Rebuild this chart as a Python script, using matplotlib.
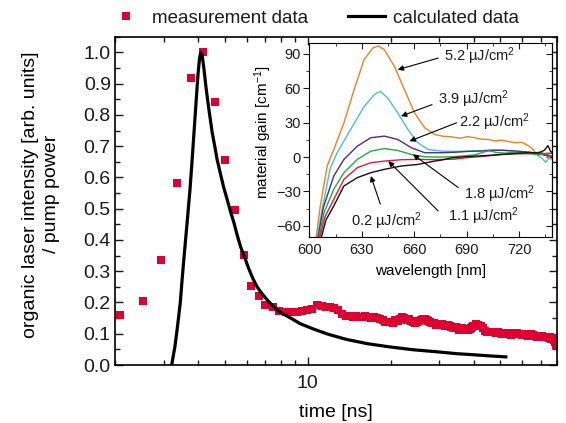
import matplotlib
matplotlib.use("Agg")
import matplotlib.pyplot as plt
from matplotlib.ticker import MultipleLocator, FormatStrFormatter, LogLocator, NullFormatter, FixedFormatter, FixedLocator

plt.rcParams['font.family'] = ['Liberation Sans', 'DejaVu Sans']
plt.rcParams['mathtext.fontset'] = 'custom'
plt.rcParams['mathtext.rm'] = 'Liberation Sans'
plt.rcParams['mathtext.it'] = 'Liberation Sans:italic'
plt.rcParams['text.color'] = '#1a1a1a'
plt.rcParams['xtick.color'] = '#1a1a1a'
plt.rcParams['ytick.color'] = '#1a1a1a'

# --- main panel: measured laser intensity vs time (ns) ---
meas_time = [2.09, 2.52, 2.93, 3.35, 3.76, 4.18, 4.60, 5.03, 5.43, 5.85, 6.22, 6.63, 7.01, 7.49,
             7.90, 8.32, 8.73, 9.15, 9.56, 9.98, 10.39, 10.81, 11.22, 11.64,
             12.05, 12.47, 12.88, 13.30, 13.71, 14.13, 14.54, 14.96, 15.37, 15.79,
             16.20, 16.62, 17.03, 17.45, 17.86, 18.28, 18.69, 19.11, 19.52, 19.94,
             20.36, 20.77, 21.19, 21.60, 22.02, 22.43, 22.85, 23.26, 23.68, 24.09, 24.51, 24.92,
             25.34, 25.75, 26.17, 26.58, 27.00, 27.41, 27.83, 28.24, 28.66, 29.07, 29.49, 29.90,
             30.32, 30.73, 31.15, 31.56, 31.98, 32.39, 32.81, 33.22, 33.64, 34.05, 34.47, 34.88,
             35.30, 35.71, 36.13, 36.54, 36.96, 37.37, 37.79, 38.20, 38.62, 39.03, 39.45, 39.86,
             40.69, 41.52, 42.35, 43.18, 44.01, 44.84, 45.67, 46.50, 47.33, 48.16,
             48.99, 49.82, 50.65, 51.48, 52.31, 53.14, 53.97, 54.80, 55.63, 56.46,
             57.29, 58.12, 58.95, 59.78, 60.61, 61.44, 62.27, 63.10, 63.93, 64.76,
             65.59, 66.42, 67.25, 68.08, 68.91, 69.74, 70.57, 71.40, 72.23, 73.06,
             73.89, 74.72, 75.55, 76.38, 77.21, 78.04, 78.87, 79.70]
meas_value = [0.160, 0.206, 0.337, 0.583, 0.918, 1.000, 0.840, 0.655, 0.497, 0.351, 0.254, 0.221, 0.192, 0.185,
              0.173, 0.169, 0.168, 0.170, 0.172, 0.176, 0.180, 0.192, 0.190, 0.186,
              0.186, 0.181, 0.176, 0.163, 0.158, 0.156, 0.155, 0.157, 0.152, 0.154,
              0.158, 0.155, 0.151, 0.153, 0.149, 0.147, 0.144, 0.139, 0.136, 0.137,
              0.134, 0.143, 0.140, 0.148, 0.153, 0.150, 0.145, 0.146, 0.141, 0.139, 0.134, 0.137,
              0.140, 0.143, 0.148, 0.146, 0.143, 0.141, 0.137, 0.133, 0.135, 0.129, 0.131, 0.128,
              0.132, 0.131, 0.127, 0.125, 0.129, 0.127, 0.124, 0.123, 0.121, 0.119, 0.121, 0.117,
              0.112, 0.114, 0.118, 0.116, 0.111, 0.113, 0.115, 0.112, 0.116, 0.118, 0.122, 0.125,
              0.131, 0.128, 0.126, 0.119, 0.110, 0.106, 0.104, 0.107, 0.106, 0.102,
              0.104, 0.101, 0.099, 0.100, 0.103, 0.100, 0.101, 0.097, 0.099, 0.101,
              0.102, 0.099, 0.098, 0.096, 0.098, 0.097, 0.095, 0.093, 0.096, 0.098,
              0.095, 0.093, 0.094, 0.091, 0.089, 0.093, 0.092, 0.088, 0.090, 0.091,
              0.088, 0.086, 0.089, 0.083, 0.085, 0.080, 0.073, 0.064]

calc_time = [3.21, 3.30, 3.37, 3.45, 3.51, 3.58, 3.66, 3.74, 3.81, 3.92, 4.00, 4.05, 4.09, 4.14,
             4.20, 4.28, 4.38, 4.50, 4.60, 4.69, 4.80, 4.95, 5.10, 5.25, 5.40, 5.55, 5.70,
             5.90, 6.10, 6.30, 6.54, 6.80, 7.10, 7.40, 7.73, 8.15, 8.60, 9.40, 10.5,
             11.8, 13.8, 16.5, 19.8, 24.0, 29.6, 35.0, 39.6, 46.0, 52.3]
calc_value = [0.0, 0.06, 0.123, 0.20, 0.283, 0.37, 0.465, 0.56, 0.658, 0.818, 0.93, 0.98, 1.0, 0.99,
              0.95, 0.885, 0.818, 0.745, 0.70, 0.658, 0.62, 0.57, 0.530, 0.49, 0.455, 0.415, 0.380,
              0.345, 0.31, 0.28, 0.251, 0.23, 0.21, 0.193, 0.177, 0.163, 0.152, 0.132, 0.115,
              0.099, 0.082, 0.068, 0.058, 0.049, 0.042, 0.036, 0.033, 0.029, 0.026]

# --- inset: material gain spectra for different pump fluences ---
wl_52 = [603.3, 603.9, 606.3, 610.2, 614.0, 619.8, 625.6, 631.3, 636.2, 639.4, 642.9, 648.7, 654.4, 660.2,
         666.0, 671.7, 676.5, 681.4, 686.0, 690.5, 694.8, 698.5, 702.5, 706.0, 710.2, 714.0, 717.9,
         721.5, 725.6, 727.5, 729.4, 732.0, 735.2, 737.5, 740.0]
gain_52 = [-80, -70, -42.6, -7.8, 6.7, 29.9, 58.9, 85, 95, 97.1, 93.7, 79.1, 58.9, 38.6,
           25.6, 19.7, 18.2, 17.7, 16.5, 17.8, 16.9, 15.6, 15.4, 14.2, 14.8, 13.5, 12.5,
           13.0, 9.6, 7.5, 3.8, 4.5, 2.3, -1.5, -2]
wl_39 = [603.9, 604.5, 607.3, 611.9, 615.9, 623.6, 631.3, 637.1, 640.6, 644.8, 650.6, 656.4, 662.1, 667.9,
         675.6, 683.0, 691.0, 698.0, 704.0, 710.2, 716.0, 721.0, 725.6, 730.0, 733.0, 735.2, 738.0, 740.0]
gain_39 = [-80, -70, -46, -10, 3.8, 24, 44, 54.5, 57.4, 51.6, 38.6, 24.1, 12.5, 6.7,
           5.2, 5.0, 5.2, 5.5, 6.3, 6.0, 5.4, 4.8, 4.0, 2.5, -1.0, -4.5, 1.0, 2.0]
wl_22 = [604.4, 605.0, 608.0, 614.0, 619.8, 627.5, 635.2, 642.9, 650.6, 658.3, 666.0, 675.6, 683.0,
         691.0, 698.0, 704.0, 710.0, 716.0, 722.0, 729.0, 735.0, 740.0]
gain_22 = [-80, -70, -44, -16.5, -2, 9.6, 16.9, 18.3, 15.4, 8.2, 3.8, 3.8, 4.2,
           5.0, 5.3, 5.8, 6.0, 5.5, 4.8, 3.8, 1.5, 0.5]
wl_18 = [604.9, 605.5, 608.5, 614.0, 619.8, 627.5, 635.2, 642.9, 650.6, 658.3, 666.0, 673.0, 681.4,
         688.0, 694.8, 700.0, 703.0, 707.0, 712.0, 718.0, 725.6, 732.0, 736.0, 740.0]
gain_18 = [-80, -70, -48, -28, -13.6, -2, 5.2, 7.5, 5.8, 2.3, 0.3, 0.0, 0.3,
           1.0, 2.0, 4.5, 5.5, 4.0, 3.5, 4.2, 3.0, 2.0, 3.5, 3.0]
wl_11 = [605.4, 606.0, 609.0, 614.0, 619.8, 627.5, 635.2, 642.9, 652.5, 662.0, 671.7, 683.0, 690.0,
         696.7, 703.0, 710.0, 717.0, 725.6, 731.0, 736.0, 740.0]
gain_11 = [-80, -70, -52, -36.8, -19.4, -9.2, -4.9, -3.5, -2.3, -2.0, -2.2, -1.8, -0.5,
           0.3, 1.2, 2.3, 2.8, 3.0, 3.8, 2.5, 4.0]
wl_02 = [606.3, 606.9, 609.5, 614.0, 619.8, 627.5, 635.2, 642.9, 652.5, 662.0, 671.7, 676.0, 681.4,
         688.0, 696.7, 703.0, 710.0, 717.0, 725.6, 731.0, 734.5, 736.5, 738.0, 740.0]
gain_02 = [-80, -70, -55, -42.6, -25.2, -17.9, -13.6, -10.7, -7.8, -6.4, -3.5, -2.5, -0.6,
           0.2, 1.0, 1.5, 2.3, 3.0, 4.0, 3.5, 6.0, 10.0, 5.0, 3.0]

fluence_labels = ['5.2 µJ/cm$^2$', '3.9 µJ/cm$^2$', '2.2 µJ/cm$^2$',
                  '1.8 µJ/cm$^2$', '1.1 µJ/cm$^2$', '0.2 µJ/cm$^2$']
spectra = [(wl_52, gain_52, '#F07F1E'), (wl_39, gain_39, '#46C3C8'), (wl_22, gain_22, '#4B2A9A'),
           (wl_18, gain_18, '#1FAE3C'), (wl_11, gain_11, '#E5173A'), (wl_02, gain_02, '#111111')]
# arrow head (on curve), arrow tail, text start  -- in inset data coords
label_pos = [((650.6, 76.3), (673.7, 86.4), (677.0, 88.0)),
             ((652.5, 35.7), (670.2, 45.8), (673.7, 50.2)),
             ((657.3, 13.9), (684.2, 29.9), (685.5, 30.5)),
             ((659.3, 2.3), (685.2, -26.6), (688.5, -32.0)),
             ((645.2, -3.5), (673.7, -47.0), (679.5, -51.5)),
             ((635.2, -16.5), (640.6, -41.0), (624.0, -56.0))]

red = '#DD0030'

fig = plt.figure(figsize=(5.66, 4.23), dpi=100)
ax = fig.add_axes([0.2032, 0.1371, 0.7804, 0.7761])

ax.plot(meas_time, meas_value, 's', color=red, ms=6.2, mec=red, mew=0,
        label='measurement data', zorder=2)
ax.plot(calc_time, calc_value, '-', color='black', lw=2.3, label='calculated data', zorder=3)

ax.set_xscale('log')
ax.set_xlim(2, 80)
ax.set_ylim(0, 1.05)
ax.xaxis.set_major_locator(FixedLocator([10]))
ax.xaxis.set_major_formatter(FixedFormatter(['10']))
ax.xaxis.set_minor_locator(LogLocator(base=10, subs=range(2, 10)))
ax.xaxis.set_minor_formatter(NullFormatter())
ax.yaxis.set_major_locator(MultipleLocator(0.1))
ax.yaxis.set_minor_locator(MultipleLocator(0.05))
ax.yaxis.set_major_formatter(FormatStrFormatter('%.1f'))
ax.tick_params(which='both', direction='in', top=True, right=True, labelsize=14, width=1)
ax.tick_params(which='major', length=6)
ax.tick_params(which='minor', length=3.5)
ax.tick_params(axis='x', pad=7)
ax.tick_params(axis='y', pad=3)
for s in ax.spines.values():
    s.set_linewidth(1.2)

ax.set_xlabel('time [ns]', fontsize=14, labelpad=9)
ax.set_ylabel('organic laser intensity [arb. units]\n/ pump power', fontsize=14, linespacing=1.3)
ax.yaxis.set_label_coords(-0.125, 0.52)

fig.legend(loc='center', bbox_to_anchor=(0.553, 0.957), ncol=2, frameon=False, fontsize=13.5,
           handlelength=2.0, handletextpad=0.4, columnspacing=2.1, borderpad=0, markerscale=1.0)

# --- inset ---
ins = fig.add_axes([0.5465, 0.439, 0.4293, 0.4605])
ins.set_facecolor('white')
for wl, g, c in spectra:
    ins.plot(wl, g, color=c, lw=1.0)
ins.set_xlim(600, 739)
ins.set_ylim(-70, 100)
ins.xaxis.set_major_locator(MultipleLocator(30))
ins.xaxis.set_minor_locator(MultipleLocator(15))
ins.yaxis.set_major_locator(MultipleLocator(30))
ins.yaxis.set_minor_locator(MultipleLocator(15))
ins.tick_params(axis='x', which='both', direction='in', top=True, labelsize=10.5, pad=4)
ins.tick_params(axis='y', which='both', direction='out', labelsize=10.5, pad=2)
ins.tick_params(which='major', length=4)
ins.tick_params(which='minor', length=2.5)
sec = ins.secondary_yaxis('right')
sec.yaxis.set_major_locator(MultipleLocator(30))
sec.yaxis.set_minor_locator(MultipleLocator(15))
sec.tick_params(which='both', direction='in', labelright=False)
sec.tick_params(which='major', length=4)
sec.tick_params(which='minor', length=2.5)
ins.set_xlabel('wavelength [nm]', fontsize=11, labelpad=5)
ins.set_ylabel(r'material gain [cm$^{\mathregular{-1}}$]', fontsize=11)
ins.yaxis.set_label_coords(-0.145, 0.54)

for lab, (head, tail, txt) in zip(fluence_labels, label_pos):
    ins.annotate('', xy=head, xytext=tail,
                 arrowprops=dict(arrowstyle='-|>', color='black', lw=0.8, mutation_scale=8,
                                 shrinkA=0, shrinkB=0))
    ins.text(txt[0], txt[1], lab, fontsize=10.5, ha='left', va='center')

fig.savefig('out.png', dpi=100)
